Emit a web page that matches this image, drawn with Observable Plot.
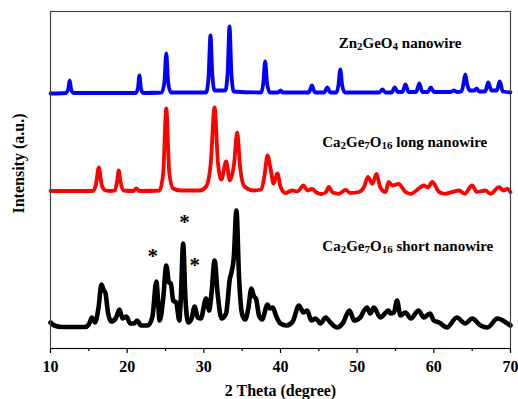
<!DOCTYPE html>
<html>
<head>
<meta charset="utf-8">
<script src="https://cdn.jsdelivr.net/npm/d3@7"></script>
<script src="https://cdn.jsdelivr.net/npm/@observablehq/plot@0.6"></script>
<style>
  html, body { margin: 0; padding: 0; background: #fff; }
  #chart svg { display: block; }
</style>
</head>
<body>
<div id="chart"></div>
<script>
// ---- Data (2θ in degrees, intensity in a.u. with vertical stacking offsets) ----
const zn2geo4 = [
  [10,255],[12.0,255.5],[12.3,259],[12.5,268],[12.7,259],[13.0,255.5],
  [21.1,255.5],[21.4,260],[21.6,273],[21.8,260],[22.1,255.5],
  [24.5,256],[24.85,266],[25.1,295],[25.35,266],[25.7,256],
  [30.3,256],[30.6,270],[30.87,313],[31.1,275],[31.4,258],
  [32.8,258],[33.1,275],[33.35,322],[33.6,275],[33.9,257],
  [37.5,256],[37.75,265],[38.0,287],[38.25,265],[38.6,256],
  [39.7,256],[40.0,258],[40.3,256],
  [43.7,256],[44.1,263],[44.5,256],
  [45.7,256],[46.1,261],[46.5,256],
  [47.3,256],[47.55,263],[47.8,279],[48.05,263],[48.4,256],
  [52.9,256],[53.3,259],[53.7,256],
  [54.5,256],[54.9,261],[55.3,256.5],
  [55.9,256.5],[56.3,264],[56.7,256.5],
  [57.7,256.5],[58.1,265],[58.5,256.5],
  [59.2,256.5],[59.6,261],[60.0,256.5],
  [62.2,256.5],[62.6,258],[63.0,256.5],
  [63.6,257],[63.85,264],[64.1,274],[64.35,264],[64.7,258],
  [65.3,258],[65.6,260],[65.9,257],
  [66.7,257],[67.1,266],[67.5,258],
  [68.2,258],[68.6,267],[69.0,257],[70,256]
];
const ca2ge7o16Long = [
  [10,157.5],[15.5,157.5],[15.9,163],[16.3,181],[16.7,163],[17.2,158],[17.8,157.5],
  [18.4,158],[18.7,168],[18.9,178],[19.1,168],[19.5,158],
  [20.8,157.5],[21.2,160],[21.6,157.5],
  [24.2,158],[24.7,175],[25.1,240],[25.5,175],[26.0,160],[27,158],
  [29.5,158],[30.3,162],[30.9,185],[31.4,241],[31.85,185],[32.3,169],[32.9,187],[33.4,168],
  [33.95,185],[34.35,216],[34.75,180],[35.3,162],[36.5,158],
  [37.5,159],[37.95,175],[38.3,193],[38.7,180],[39.1,165],[39.6,175],[40.0,162],[40.65,155.5],
  [41.5,158],[42.2,157],[43.0,163],[43.5,158],[44.1,159.5],[44.7,156],[45.3,154.5],[45.9,156],
  [46.3,161.5],[46.8,156],[47.6,154.7],[48.5,158.5],[49.1,155.5],[50.2,156.5],[50.9,161.5],
  [51.4,171.5],[52.0,164.7],[52.5,174.7],[53.0,161.5],[53.7,156.5],[54.1,166.5],[54.6,163],
  [55.4,164.7],[56.3,156.5],[57.0,154.7],[58.0,159.7],[58.4,162],[58.7,163],[59.2,161],
  [59.8,166.5],[60.7,156.5],[61.5,154.7],[62.3,156.3],[63.3,158],[64.0,154.7],[65.0,163],
  [65.6,156.5],[66.7,158],[67.4,154.7],[68.5,161.3],[69.1,158],[69.6,159.7],[70,156.3]
];
const ca2ge7o16Short = [
  [10,26],[10.5,23],[11.5,21.5],[14.5,21.5],[15.0,24],[15.4,31],[15.8,26],[16.25,40],[16.65,64],
  [16.95,58],[17.15,56],[17.5,36],[17.9,27],[18.5,30],[19.0,39],[19.4,30],[19.9,32],[20.4,25],
  [20.9,25],[21.3,28],[21.8,23],[22.7,23],[23.3,32],[23.8,67],[24.25,28],[24.7,50],[25.1,83],
  [25.45,66],[25.7,65],[26.0,48],[26.4,46],[26.8,28],[27.0,50],[27.3,105],[27.6,50],[27.95,26],
  [28.4,30],[28.8,42],[29.2,31],[29.6,30],[30.3,50],[30.7,38],[31.0,55],[31.4,88],[31.8,55],
  [32.3,30],[32.9,35],[33.4,70],[33.6,76],[33.9,90],[34.25,138],[34.6,70],[35.0,34],[35.4,29],
  [35.8,40],[36.2,60],[36.55,52],[36.8,50],[37.2,33],[37.6,29],[38.3,44],[38.6,40],[39.0,41],
  [39.4,33],[40.0,25],[40.8,23],[41.6,27],[42.4,43],[43.0,36],[43.5,38],[44.0,28],[44.6,30],
  [45.2,25],[45.9,31],[46.5,26],[47.4,21],[48.1,25],[49.0,38],[49.6,28],[50.4,31],[50.9,38],
  [51.3,41],[51.7,35],[52.2,41],[53.0,31],[54.1,38],[54.35,35],[54.8,36],[55.2,48],[55.65,33],
  [56.3,36],[57.0,30],[58.0,38],[58.7,31],[59.5,35],[60.0,28],[60.7,26],[61.7,21],[63.0,31],
  [64.1,25],[65.0,30],[66.1,23],[67.0,21],[68.3,30],[69.4,26],[70,23]
];
const seriesNames  = ["Zn2GeO4 nanowire", "Ca2Ge7O16 long nanowire", "Ca2Ge7O16 short nanowire"];
const seriesColors = ["#0000ff", "#ff0000", "#000000"];
const seriesWidths = [3.8, 3.8, 4.6];
const labelX = [55.6, 56.2, 56.6];
const labelY = [305, 206, 102];
const starX = [23.34, 27.48, 28.82];
const starY = [95, 129, 86];
const majorTicks = [10, 20, 30, 40, 50, 60, 70];
const minorTicks = [15, 25, 35, 45, 55, 65];
const xTitle = "2 Theta (degree)";
const yTitle = "Intensity (a.u.)";

// ---- Build tables ----
const allSeries = [zn2geo4, ca2ge7o16Long, ca2ge7o16Short];
const labels = seriesNames.map((t, i) => ({text: t, x: labelX[i], y: labelY[i]}));
const stars = starX.map((x, i) => ({x, y: starY[i]}));

const FONT = "Liberation Serif, Times New Roman, serif";

const plot = Plot.plot({
  width: 518,
  height: 399,
  marginLeft: 50,
  marginRight: 8,
  marginTop: 11,
  marginBottom: 51,
  style: {fontFamily: FONT, background: "#fff", color: "#000"},
  x: {domain: [10, 70]},
  y: {domain: [0, 337], axis: null},
  marks: [
    ...allSeries.map((s, i) => Plot.line(s, {x: d => d[0], y: d => d[1], stroke: seriesColors[i],
      strokeWidth: seriesWidths[i], curve: "monotone-x", strokeLinejoin: "round"})),
    Plot.frame({stroke: "#444", strokeWidth: 1.2}),
    Plot.axisX({ticks: minorTicks, tickSize: 3, text: null, label: null, strokeWidth: 1.2}),
    Plot.axisX({ticks: majorTicks, tickSize: 5, tickPadding: 7, tickFormat: d => String(d), label: null,
      fontSize: 16, fontWeight: "bold", fontFamily: FONT, strokeWidth: 1.2}),
    Plot.ruleY([0], {stroke: "#000", strokeWidth: 1.2}),
    Plot.text([xTitle], {x: () => 40, y: () => -42.5, text: d => d, fontSize: 16, fontWeight: "bold", fontFamily: FONT, fill: "#000"}),
    Plot.text([yTitle], {x: () => 5.83, y: () => 185, text: d => d, rotate: -90, fontSize: 16, fontWeight: "bold", fontFamily: FONT, fill: "#000"}),
    Plot.text(labels, {x: "x", y: "y", text: "text", fontSize: 15, fontWeight: "bold", fontFamily: FONT, fill: "#000"}),
    Plot.text(stars, {x: "x", y: "y", text: () => "*", fontSize: 21, fontWeight: "bold", fontFamily: FONT, fill: "#000", dy: 3})
  ]
});
document.getElementById("chart").appendChild(plot);

// Render chemical formula digits as subscripts
d3.select(plot).selectAll("text").each(function() {
  const el = d3.select(this);
  const t = el.text();
  if (!seriesNames.includes(t)) return;
  el.text(null);
  const parts = t.split(/(\d+)/).filter(p => p.length);
  let sub = false;
  parts.forEach(p => {
    const isDigit = /^\d+$/.test(p);
    const ts = el.append("tspan").text(p);
    if (isDigit) {
      ts.attr("font-size", "11px").attr("dy", sub ? null : "1.5");
      sub = true;
    } else if (sub) {
      ts.attr("dy", "-1.5");
      sub = false;
    }
  });
});
</script>
</body>
</html>
